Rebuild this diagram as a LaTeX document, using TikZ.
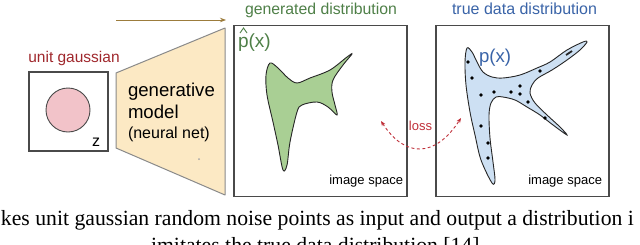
\documentclass[tikz,border=0pt]{standalone}
\usepackage{fontspec}
\setmainfont{Liberation Sans}
\newfontfamily\capfont{Liberation Serif}
\usetikzlibrary{arrows.meta}
\definecolor{boxgray}{HTML}{4A4A4A}
\definecolor{ugred}{HTML}{A0282D}
\definecolor{arrowolive}{HTML}{9C7C3C}
\definecolor{trapfill}{HTML}{FCE9C4}
\definecolor{trapline}{HTML}{8A8A8A}
\definecolor{pinkfill}{HTML}{F2C3C9}
\definecolor{gentitle}{HTML}{4F8048}
\definecolor{genfill}{HTML}{A9CF94}
\definecolor{truetitle}{HTML}{3A64A8}
\definecolor{truefill}{HTML}{CDE0F3}
\definecolor{lossred}{HTML}{C0303A}
\tikzset{
  box/.style={draw=boxgray, line width=1.1pt, inner sep=0pt, fill=white},
  lbl/.style={inner sep=0pt, outer sep=0pt},
  dotmark/.style={circle, fill=black, inner sep=0pt, minimum size=3.6pt},
}
\begin{document}
\begin{tikzpicture}[x=1pt,y=-1pt]
\useasboundingbox (0,0) rectangle (640,244);
\clip (0,0) rectangle (640,244);
\fill[white] (0,0) rectangle (640,244);

% top arrow
\coordinate (a1) at (116,20);
\coordinate (a2) at (226,20);
\draw[arrowolive, line width=0.9pt, -{Stealth[length=6pt,width=4.5pt]}] (a1) -- (a2);

% unit gaussian
\node[lbl, anchor=base, text=ugred, font=\fontsize{15.5}{18}\selectfont] (ug) at (74,62) {unit gaussian};
\node[box, minimum width=79pt, minimum height=79pt] (zbox) at (68.5,111.5) {};
\node[circle, draw=boxgray, line width=0.9pt, fill=pinkfill, minimum size=44pt, inner sep=0pt] (zc) at (68,110) {};
\node[lbl, anchor=base, font=\fontsize{16}{18}\selectfont] (z) at (96,146) {z};

% generative model trapezoid
\coordinate (t1) at (116,73);
\coordinate (t2) at (225,28);
\coordinate (t3) at (225,195);
\coordinate (t4) at (116,148);
\draw[trapline, line width=1pt, fill=trapfill, line join=round] (t1) -- (t2) -- (t3) -- (t4) -- cycle;
\node[lbl, anchor=base west, font=\fontsize{18.6}{20}\selectfont] (g1) at (128,96) {generative};
\node[lbl, anchor=base west, font=\fontsize{18.6}{20}\selectfont] (g2) at (128,118) {model};
\node[lbl, anchor=base west, font=\fontsize{16}{18}\selectfont] (g3) at (128,138) {(neural net)};
\fill[gray!70] (199,159) circle (1pt);

% generated distribution
\node[lbl, anchor=base, text=gentitle, font=\fontsize{15.8}{18}\selectfont] (gt) at (321,14) {generated distribution};
\node[box, minimum width=173pt, minimum height=171pt] (gen) at (320.5,111) {};
\node[lbl, anchor=base west, text=gentitle, font=\fontsize{19}{21}\selectfont] (phat) at (238,47) {p(x)};
\draw[gentitle, line width=0.9pt, line join=miter] (phat.base west) ++(2,-14) -- ++(3.5,-5) -- ++(3.5,5);
\draw[black!85, line width=0.9pt, fill=genfill] plot[smooth cycle, tension=0.55] coordinates {
 (270,63) (266,75) (267,95) (273,122) (278,145) (283,170) (287,165) (290,142)
 (297,112) (302,105) (317,102) (328,107) (337,115) (335,105) (332,92) (333,80)
 (343,65) (352,54) (347,57) (330,70) (310,78) (297,83) (288,78) (278,68)};
\node[lbl, anchor=base east, font=\fontsize{13}{15}\selectfont] (is1) at (403,184) {image space};

% true data distribution
\node[lbl, anchor=base, text=truetitle, font=\fontsize{16}{18}\selectfont] (tt) at (524.5,14) {true data distribution};
\node[box, minimum width=173pt, minimum height=171pt] (tru) at (522.5,111) {};
\draw[black!85, line width=0.9pt, fill=truefill] plot[smooth cycle, tension=0.55] coordinates {
 (467,48) (465,62) (466,85) (470,112) (475,135) (481,160) (492,183) (495,180)
 (493,162) (490,138) (489,115) (491,103) (496,97) (503,97) (515,100) (527,107)
 (540,115) (553,125) (567,135) (560,127) (547,115) (535,103) (530,93) (532,85)
 (538,78) (552,70) (567,60) (580,50) (587,42) (583,42) (567,50) (550,62)
 (537,68) (520,75) (503,78) (492,77) (483,72) (477,62) (472,52)};
\draw[black!85, line width=1.8pt] (566,55) -- (572,51);
\node[lbl, anchor=base west, text=truetitle, font=\fontsize{18.6}{20}\selectfont] (px) at (479,62) {p(x)};
\foreach \i/\p in {1/{(468,62)},2/{(472,78)},3/{(481,95)},4/{(494,92)},5/{(511,92)},
  6/{(520,86)},7/{(520,94)},8/{(528,102)},9/{(540,71)},10/{(545,118)},
  11/{(481,126)},12/{(488,143)},13/{(488,158)}}
  \node[dotmark] (d\i) at \p {};
\node[lbl, anchor=base east, font=\fontsize{13}{15}\selectfont] (is2) at (602,184) {image space};

% loss
\coordinate (l1) at (381,121);
\coordinate (l2) at (461,118);
\draw[lossred, line width=0.9pt, dashed, dash pattern=on 3pt off 2.5pt,
  {Stealth[length=5pt,width=4pt]}-{Stealth[length=5pt,width=4pt]}]
  (l1) .. controls (405,158) and (435,158) .. (l2);
\node[lbl, anchor=base, text=lossred, font=\fontsize{13}{15}\selectfont, fill=white, inner sep=0.5pt] (loss) at (420.5,130) {loss};

% caption
\node[lbl, anchor=base west, font=\capfont\fontsize{21.7}{26}\selectfont] (cap1) at (1,225) {kes unit gaussian random noise points as input and output a distribution i};
\node[lbl, anchor=base, font=\capfont\fontsize{21.7}{26}\selectfont] (cap2) at (318,252) {imitates the true data distribution [14].};
\end{tikzpicture}
\end{document}
